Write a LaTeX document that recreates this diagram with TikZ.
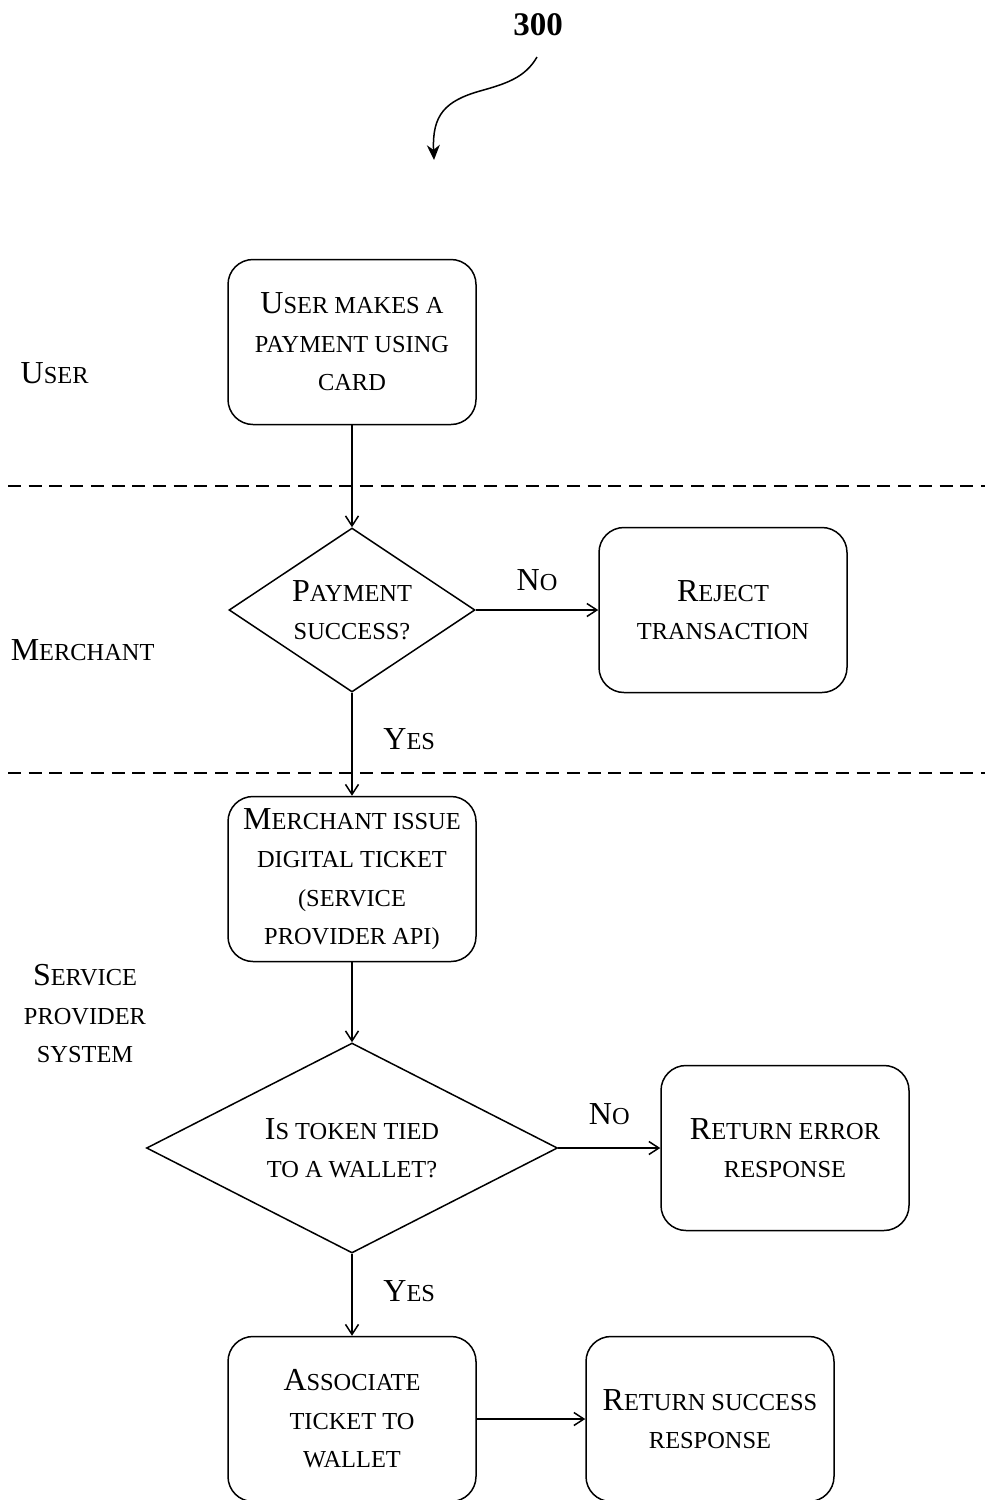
\documentclass[tikz,border=0pt]{standalone}
\usepackage{fontspec}
\setmainfont{Liberation Serif}
\usetikzlibrary{shapes.geometric,arrows.meta}

% small part of the hand-made small caps
\newcommand\sm[1]{{\fontsize{12.2}{19.25}\selectfont #1}}

\begin{document}
\begin{tikzpicture}[
		x=0.5pt, y=-0.5pt,
		line width=0.75pt,
		>={Straight Barb[length=5pt,width=6.5pt]},
		every node/.style={font=\fontsize{16}{19.25}\selectfont},
		process/.style={draw,rounded corners=12.5pt,align=center,minimum width=124pt,minimum height=82.5pt,inner sep=0pt},
		decision/.style={draw,diamond,align=center,inner sep=0pt},
		lane/.style={dash pattern=on 6.5pt off 3.85pt}
	]
		\useasboundingbox (0,0) rectangle (985,1500);

		% Reference numeral
		\node[font=\fontsize{16.5}{20}\selectfont\bfseries] (ref) at (538,25) {300};
		\coordinate (refend) at (434,160);
		\draw[-{Stealth[length=7.5pt,width=6.5pt]}] (537,57) .. controls (525,78) and (505,84) .. (480,91)
			.. controls (445,101) and (432,115) .. (refend);

		% Lanes
		\coordinate (l1a) at (8,486);
		\coordinate (l1b) at (985,486);
		\coordinate (l2a) at (8,773);
		\coordinate (l2b) at (985,773);
		\draw[lane] (l1a) -- (l1b);
		\draw[lane] (l2a) -- (l2b);
		\node[anchor=west, inner sep=0pt] (user) at (20,373) {U\sm{SER}};
		\node[anchor=west, inner sep=0pt] (merchant) at (10,650) {M\sm{ERCHANT}};
		\node[align=center] (sps) at (85,1014) {S\sm{ERVICE}\\ \sm{PROVIDER}\\ \sm{SYSTEM}};

		% Boxes
		\node[process] (pay) at (352,342) {U\sm{SER MAKES A}\\ \sm{PAYMENT USING}\\ \sm{CARD}};
		\node[process] (reject) at (723,610) {R\sm{EJECT}\\ \sm{TRANSACTION}};
		\node[process] (issue) at (352,879) {M\sm{ERCHANT ISSUE}\\ \sm{DIGITAL TICKET}\\ \sm{(SERVICE}\\ \sm{PROVIDER API)}};
		\node[process] (error) at (785,1148) {R\sm{ETURN ERROR}\\ \sm{RESPONSE}};
		\node[process] (assoc) at (352,1419) {A\sm{SSOCIATE}\\ \sm{TICKET TO}\\ \sm{WALLET}};
		\node[process] (success) at (710,1419) {R\sm{ETURN SUCCESS}\\ \sm{RESPONSE}};

		% Decisions
		\node[decision, aspect=1.5, minimum width=123pt, minimum height=82pt] (paid) at (352,610) {P\sm{AYMENT}\\ \sm{SUCCESS?}};
		\node[decision, aspect=2, minimum width=205.5pt, minimum height=105pt] (tied) at (352,1148) {I\sm{S TOKEN TIED}\\ \sm{TO A WALLET?}};

		% Arrows
		\draw[->] (pay) -- (paid);
		\draw[->] (paid) -- node[above=6pt] (no1) {N\sm{O}} (reject);
		\draw[->] (paid) -- node[right=12pt, pos=0.45] (yes1) {Y\sm{ES}} (issue);
		\draw[->] (issue) -- (tied);
		\draw[->] (tied) -- node[above=8pt, pos=0.5] (no2) {N\sm{O}} (error);
		\draw[->] (tied) -- node[right=12pt, pos=0.45] (yes2) {Y\sm{ES}} (assoc);
		\draw[->] (assoc) -- (success);
	\end{tikzpicture}
\end{document}
